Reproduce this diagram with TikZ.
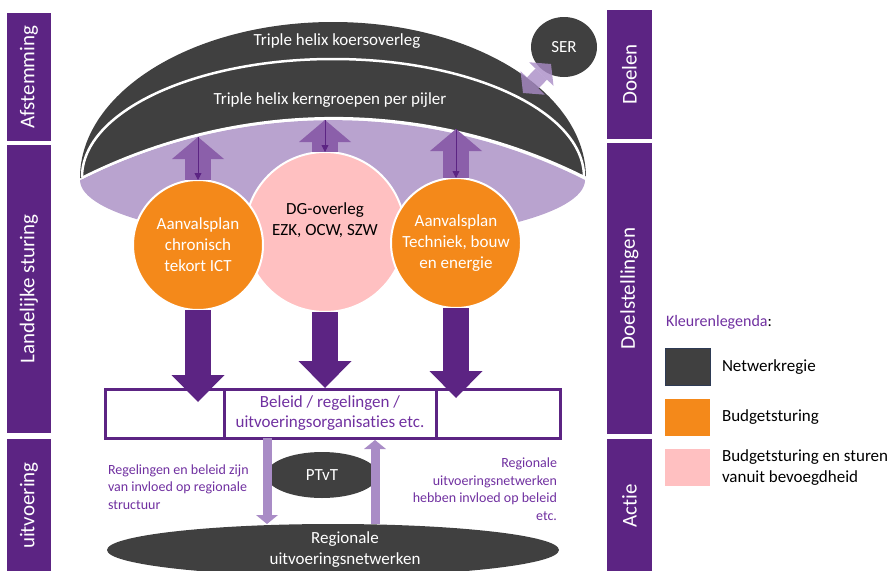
\documentclass[tikz,border=0pt]{standalone}
\usepackage{fontspec}
\setmainfont{Carlito}[Ligatures=NoCommon]
\usetikzlibrary{arrows.meta,positioning,shapes.geometric}

\definecolor{paars}{HTML}{5C2483}
\definecolor{tekstpaars}{HTML}{7030A0}
\definecolor{donker}{HTML}{404040}
\definecolor{oranje}{HTML}{F4891A}
\definecolor{roze}{HTML}{FFC0C1}
\definecolor{lila}{HTML}{B9A3CF}
\definecolor{pijllila}{HTML}{8B5FAA}
\definecolor{lichtlila}{HTML}{A98CC6}
\definecolor{randblauw}{HTML}{2E3B55}

\begin{document}
\begin{tikzpicture}[
    x=1pt, y=1pt,
    every node/.style={font=\fontsize{17}{21}\selectfont, inner sep=0pt, outer sep=0pt},
    balk/.style={fill=paars, text=white, rotate=90, minimum height=44pt,
      font=\fontsize{21}{25}\selectfont},
    cirkel/.style={circle, draw=white, line width=2pt, align=center},
    ovaal/.style={ellipse, fill=donker, text=white, align=center},
    witlijn/.style={draw=white, line width=2.5pt},
    dikpijl/.style={draw=paars, line width=26pt,
      -{Triangle[width=53pt,length=27pt,line width=0pt]}},
    blokpijl/.style={draw=pijllila, line width=26pt,
      -{Triangle[width=52pt,length=22pt,line width=0pt]}},
    dunpijl/.style={draw=paars, line width=0.8pt, -{Triangle[width=7pt,length=7pt]}},
    lichtpijl/.style={draw=lichtlila, line width=9pt,
      -{Triangle[width=22pt,length=9pt,line width=0pt]}},
    serpijl/.style={draw=lichtlila, line width=16pt, opacity=0.8,
      {Triangle[width=34pt,length=14pt,line width=0pt]}-{Triangle[width=34pt,length=14pt,line width=0pt]}},
    kader/.style={draw=paars, line width=3pt, minimum height=49pt},
    legvak/.style={minimum width=45pt, minimum height=37pt},
    klein/.style={text=tekstpaars, font=\fontsize{14}{17.5}\selectfont}
  ]
  \useasboundingbox (0,0) rectangle (891,-570);
  \clip (0,0) rectangle (891,-570);

  % zijbalken
  \node[balk, minimum width=128pt] (afst) at (29,-77) {Afstemming};
  \node[balk, minimum width=288pt] (lands) at (29,-289) {Landelijke sturing};
  \node[balk, minimum width=133pt] (uitv) at (29,-505.5) {uitvoering};
  \node[balk, minimum width=129pt, minimum height=45pt] (doel) at (629.5,-74.5) {Doelen};
  \node[balk, minimum width=291pt, minimum height=45pt] (doelst) at (629.5,-288.5) {Doelstellingen};
  \node[balk, minimum width=133pt, minimum height=45pt] (actie) at (629.5,-505.5) {Actie};

  % koepel
  \fill[lila] (80,-180) arc[start angle=180, end angle=360, x radius=252.5, y radius=62]
    arc[start angle=63.3, end angle=116.7, radius=561.3] -- cycle;
  \fill[donker] (80,-178) arc[start angle=180, end angle=0, x radius=253, y radius=156]
    arc[start angle=63.3, end angle=116.7, radius=561.3] -- cycle;
  \draw[witlijn] (586,-178) arc[start angle=63.3, end angle=116.7, radius=561.3];
  \draw[witlijn] (82,-177) arc[start angle=180, end angle=0, x radius=251, y radius=118];
  \node[text=white] (koers) at (337,-41) {Triple helix koersoverleg};
  \node[text=white] (kern) at (330,-100) {Triple helix kerngroepen per pijler};

  \node[ovaal, minimum width=66pt, minimum height=60pt] (ser) at (564,-47) {SER};
  \coordinate (koepelrand) at (523,-93);
  \coordinate (serrand) at (551,-64);
  \draw[serpijl] (koepelrand) -- (serrand);

  % cirkels
  \node[cirkel, fill=roze, minimum size=160pt] (dg) at (325,-232) {};
  \node[align=center] (dgtekst) at (325,-220) {DG-overleg\\EZK, OCW, SZW};
  \node[cirkel, fill=oranje, text=white, minimum size=130pt] (ict) at (198,-245)
    {Aanvalsplan\\chronisch\\tekort ICT};
  \node[cirkel, fill=oranje, text=white, minimum size=130pt] (tbe) at (456,-243)
    {Aanvalsplan\\Techniek, bouw\\en energie};

  \coordinate (pA) at (198,-137);
  \coordinate (pB) at (325,-120);
  \coordinate (pC) at (456,-129);
  \draw[blokpijl] (ict.north) -- (pA);
  \draw[blokpijl] (dg.north) -- (pB);
  \draw[blokpijl] (tbe.north) -- (pC);
  \draw[dunpijl] (pA) -- (ict.north);
  \draw[dunpijl] (pB) -- (dg.north);
  \draw[dunpijl] (pC) -- (tbe.north);

  % beleid
  \node[kader, minimum width=455pt] (rij) at (332.5,-413.5) {};
  \node[kader, minimum width=212pt, text=tekstpaars, align=center,
    font=\fontsize{17}{20}\selectfont] (beleid) at (330,-413.5)
    {Beleid / regelingen /\\uitvoeringsorganisaties etc.};

  \coordinate (tA) at (198,-402);
  \coordinate (tB) at (325,-388);
  \coordinate (tC) at (456,-398);
  \draw[dikpijl] (ict.south) -- (tA);
  \draw[dikpijl] (dg.south) -- (tB);
  \draw[dikpijl] (tbe.south) -- (tC);

  % uitvoering
  \node[ovaal, minimum width=112pt, minimum height=46pt] (ptvt) at (322,-475) {PTvT};
  \node[ovaal, minimum width=452pt, minimum height=52pt,
    label={[text=white, align=center, xshift=12pt]center:Regionale\\uitvoeringsnetwerken}]
    (regio) at (333,-550) {};
  \coordinate (neer) at (267,-524);
  \coordinate (op) at (375,-440);
  \draw[lichtpijl] (beleid.south -| neer) -- (neer);
  \draw[lichtpijl] (regio.north -| op) -- (op);

  \node[klein, align=left, anchor=west] (links) at (108,-487)
    {Regelingen en beleid zijn\\van invloed op regionale\\structuur};
  \node[klein, align=right, anchor=east] (rechts) at (557,-489)
    {Regionale\\uitvoeringsnetwerken\\hebben invloed op beleid\\etc.};

  % legenda
  \node[anchor=west, font=\fontsize{16}{19}\selectfont] (legtitel) at (666,-322)
    {\textcolor{tekstpaars}{Kleurenlegenda}:};
  \node[legvak, fill=donker, draw=randblauw, line width=0.8pt] (lg1) at (687.5,-367) {};
  \node[right=12pt of lg1] (lt1) {Netwerkregie};
  \node[legvak, fill=oranje] (lg2) at (687.5,-417.5) {};
  \node[right=12pt of lg2] (lt2) {Budgetsturing};
  \node[legvak, fill=roze] (lg3) at (687.5,-467.5) {};
  \node[right=12pt of lg3, align=left] (lt3) {Budgetsturing en sturen\\vanuit bevoegdheid};
\end{tikzpicture}
\end{document}
